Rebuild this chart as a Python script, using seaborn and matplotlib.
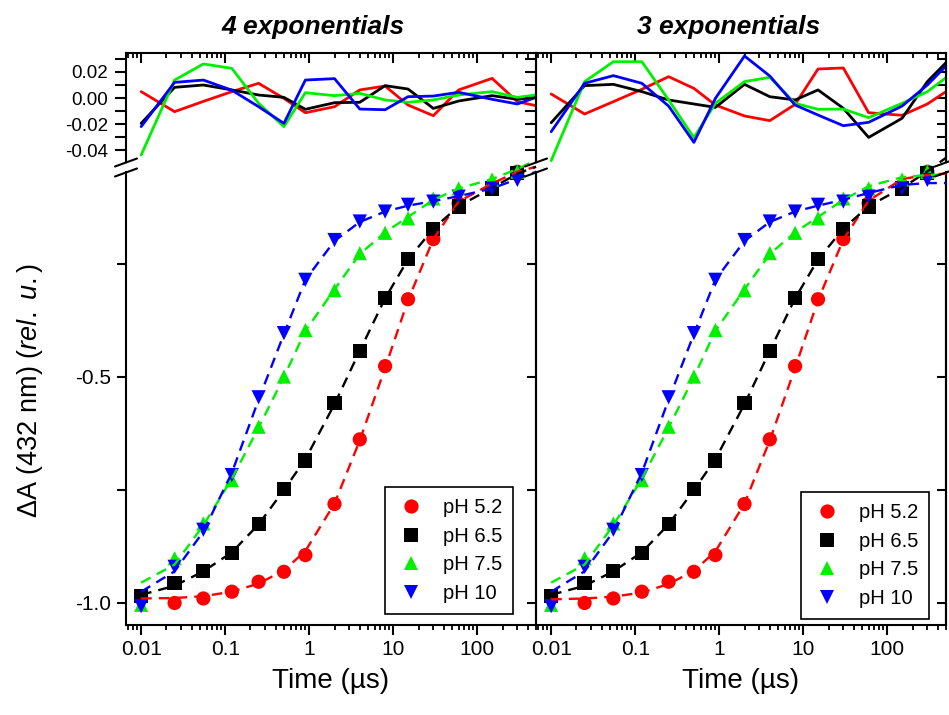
import matplotlib
matplotlib.use("Agg")
import matplotlib.pyplot as plt
from matplotlib.lines import Line2D
from matplotlib.ticker import FixedLocator, FixedFormatter, LogLocator, NullFormatter
import pandas as pd
import seaborn as sns

# ---------------------------------------------------------------- data
# delay times (µs)
time_us = [0.01, 0.025, 0.055, 0.12, 0.25, 0.5, 0.9, 2, 4, 8, 15, 30, 60, 150, 300]
# time grid of the fitted curves and their residuals
fit_time_us = [0.01, 0.025, 0.055, 0.12, 0.25, 0.5, 0.9, 2, 4, 8, 15, 30, 60, 150, 300, 500]

ph_labels = ["pH 5.2", "pH 6.5", "pH 7.5", "pH 10"]

# normalised absorbance change at 432 nm
dA_ph52 = [-0.987, -1.000, -0.990, -0.975, -0.953, -0.931, -0.894, -0.781, -0.638,
           -0.476, -0.328, -0.195, -0.116, -0.077, -0.046]
dA_ph65 = [-0.985, -0.956, -0.929, -0.890, -0.825, -0.748, -0.685, -0.558, -0.442,
           -0.326, -0.239, -0.173, -0.123, -0.083, -0.048]
dA_ph75 = [-1.004, -0.901, -0.824, -0.728, -0.610, -0.499, -0.396, -0.308, -0.226,
           -0.181, -0.149, -0.105, -0.083, -0.063, -0.046]
dA_ph10 = [-1.007, -0.920, -0.838, -0.717, -0.545, -0.403, -0.285, -0.197, -0.156,
           -0.134, -0.119, -0.112, -0.101, -0.083, -0.064]

# fitted curves, sum of four exponentials
fit4_ph52 = [-0.990, -0.989, -0.985, -0.975, -0.957, -0.928, -0.885, -0.780, -0.640,
             -0.480, -0.330, -0.195, -0.112, -0.072, -0.046, -0.035]
fit4_ph65 = [-0.982, -0.962, -0.930, -0.888, -0.826, -0.750, -0.682, -0.560, -0.442,
             -0.326, -0.240, -0.172, -0.122, -0.082, -0.050, -0.035]
fit4_ph75 = [-0.955, -0.915, -0.828, -0.725, -0.612, -0.500, -0.398, -0.306, -0.228,
             -0.180, -0.146, -0.108, -0.083, -0.062, -0.040, -0.020]
fit4_ph10 = [-0.975, -0.930, -0.842, -0.712, -0.550, -0.405, -0.285, -0.199, -0.157,
             -0.134, -0.121, -0.111, -0.100, -0.083, -0.062, -0.046]

# fitted curves, sum of three exponentials
fit3_ph52 = [-0.992, -0.990, -0.986, -0.977, -0.958, -0.929, -0.886, -0.780, -0.640,
             -0.480, -0.330, -0.196, -0.110, -0.062, -0.053, -0.050]
fit3_ph65 = [-0.982, -0.962, -0.930, -0.888, -0.826, -0.750, -0.682, -0.560, -0.442,
             -0.326, -0.240, -0.172, -0.122, -0.082, -0.045, -0.015]
fit3_ph75 = [-0.955, -0.915, -0.828, -0.725, -0.612, -0.500, -0.398, -0.306, -0.228,
             -0.180, -0.146, -0.108, -0.078, -0.058, -0.053, -0.052]
fit3_ph10 = [-0.975, -0.930, -0.842, -0.712, -0.550, -0.405, -0.285, -0.199, -0.157,
             -0.134, -0.121, -0.108, -0.093, -0.075, -0.071, -0.071]

# fit residuals, four exponentials
res4_ph52 = [0.0049, -0.0105, -0.0026, 0.0049, 0.0113, -0.0003, -0.0113, -0.0067,
             0.0062, 0.0092, -0.0054, -0.0136, 0.0062, 0.0151, -0.0028, -0.0059]
res4_ph65 = [-0.0195, 0.0082, 0.0100, 0.0062, 0.0023, 0.0005, -0.0087, -0.0036,
             -0.0033, 0.0095, 0.0069, -0.0080, -0.0023, 0.0018, -0.0010, 0.0005]
res4_ph75 = [-0.0438, 0.0138, 0.0262, 0.0228, -0.0041, -0.0220, 0.0041, 0.0018,
             0.0036, -0.0015, -0.0033, -0.0015, 0.0023, 0.0049, 0.0005, 0.0023]
res4_ph10 = [-0.0220, 0.0120, 0.0138, 0.0060, -0.0067, -0.0195, 0.0138, 0.0149,
             -0.0085, -0.0090, 0.0010, 0.0015, 0.0044, -0.0010, -0.0046, 0.0005]

# fit residuals, three exponentials
res3_ph52 = [0.0031, -0.0123, -0.0028, 0.0067, 0.0164, 0.0074, -0.0054, -0.0138,
             -0.0174, -0.0049, 0.0223, 0.0231, -0.0113, -0.0133, -0.0046, 0.0049]
res3_ph65 = [-0.0190, 0.0095, 0.0105, 0.0049, -0.0015, -0.0046, -0.0072, 0.0105,
             0.0010, -0.0015, 0.0062, -0.0079, -0.0303, -0.0156, 0.0126, 0.0272]
res3_ph75 = [-0.0482, 0.0126, 0.0279, 0.0279, -0.0015, -0.0305, -0.0041, 0.0126,
             0.0159, -0.0041, -0.0087, -0.0085, -0.0151, -0.0041, 0.0049, 0.0156]
res3_ph10 = [-0.0259, 0.0113, 0.0172, 0.0113, -0.0062, -0.0341, -0.0003, 0.0323,
             0.0169, -0.0054, -0.0131, -0.0213, -0.0187, -0.0062, 0.0100, 0.0246]

panel_titles = ["4 exponentials", "3 exponentials"]
x_tick_values = [0.01, 0.1, 1, 10, 100]
x_tick_labels = ["0.01", "0.1", "1", "10", "100"]
main_y_ticks = [-1.0, -0.75, -0.5, -0.25]
main_y_labels = ["-1.0", "", "-0.5", ""]
res_y_ticks = [-0.04, -0.03, -0.02, -0.01, 0.0, 0.01, 0.02, 0.03]
res_y_labels = ["-0.04", "", "-0.02", "", "0.00", "", "0.02", ""]

# ---------------------------------------------------------------- tables
def long_table(x, series):
    rows = []
    for label, values in zip(ph_labels, series):
        for t, v in zip(x, values):
            rows.append({"t": t, "value": v, "pH": label})
    return pd.DataFrame(rows)


points = long_table(time_us, [dA_ph52, dA_ph65, dA_ph75, dA_ph10])
fits = [long_table(fit_time_us, [fit4_ph52, fit4_ph65, fit4_ph75, fit4_ph10]),
        long_table(fit_time_us, [fit3_ph52, fit3_ph65, fit3_ph75, fit3_ph10])]
residuals = [long_table(fit_time_us, [res4_ph52, res4_ph65, res4_ph75, res4_ph10]),
             long_table(fit_time_us, [res3_ph52, res3_ph65, res3_ph75, res3_ph10])]

palette = dict(zip(ph_labels, ["#ff0000", "#000000", "#00f000", "#0000ff"]))
marker_map = dict(zip(ph_labels, ["o", "s", "^", "v"]))

# ---------------------------------------------------------------- style
sns.set_theme(style="ticks")
plt.rcParams["font.family"] = ["Liberation Sans", "DejaVu Sans"]
plt.rcParams["axes.unicode_minus"] = False
plt.rcParams["mathtext.fontset"] = "custom"
plt.rcParams["mathtext.rm"] = "Liberation Sans"
plt.rcParams["mathtext.it"] = "Liberation Sans:italic"
plt.rcParams["axes.linewidth"] = 1.5
for key in ("text.color", "axes.labelcolor", "xtick.color", "ytick.color",
            "axes.edgecolor"):
    plt.rcParams[key] = "black"

W, H = 949, 715
fig = plt.figure(figsize=(W / 100, H / 100), dpi=100)


def frac_rect(x0, x1, ytop, ybot):
    return [x0 / W, 1 - ybot / H, (x1 - x0) / W, (ybot - ytop) / H]


panel_x = [(126, 536), (536, 946)]
res_y = (53, 162)
main_y = (172, 625)
x_lim = (0.0066, 500)
main_lim = (-1.0487, -0.0465)
res_lim = (-0.0492, 0.0346)
legend_anchor = [(0.944, 0.024), (0.9585, 0.013)]
title_x = [313, 729]

for i, (x0, x1) in enumerate(panel_x):
    ax_res = fig.add_axes(frac_rect(x0, x1, res_y[0], res_y[1]))
    ax = fig.add_axes(frac_rect(x0, x1, main_y[0], main_y[1]))
    for a in (ax, ax_res):
        a.patch.set_alpha(0)
        a.set_xscale("log")
        a.set_xlim(*x_lim)

    # ---- main panel: data points and dashed fits
    sns.scatterplot(data=points, x="t", y="value", hue="pH", style="pH",
                    palette=palette, markers=marker_map, s=105, linewidth=0,
                    ax=ax, zorder=2, clip_on=False)
    sns.lineplot(data=fits[i], x="t", y="value", hue="pH", palette=palette,
                 linewidth=1.7, linestyle=(0, (4.5, 3.0)), ax=ax, legend=False,
                 zorder=3, clip_on=False, errorbar=None)
    ax.set_ylim(*main_lim)
    ax.spines["top"].set_visible(False)
    ax.xaxis.set_major_locator(FixedLocator(x_tick_values))
    ax.xaxis.set_major_formatter(FixedFormatter(x_tick_labels))
    ax.xaxis.set_minor_locator(LogLocator(base=10, subs=range(2, 10), numticks=20))
    ax.xaxis.set_minor_formatter(NullFormatter())
    ax.yaxis.set_major_locator(FixedLocator(main_y_ticks))
    ax.yaxis.set_major_formatter(FixedFormatter(main_y_labels if i == 0 else [""] * 4))
    ax.tick_params(axis="x", which="major", direction="out", length=7, width=1.5,
                   labelsize=15, pad=4)
    ax.tick_params(axis="x", which="minor", direction="out", length=3.8, width=1.3)
    ax.tick_params(axis="y", which="major", direction="out", length=6.5, width=1.5,
                   labelsize=15, pad=4, right=False)
    ax.set_xlabel("Time (µs)", fontsize=20, labelpad=6)
    ax.set_ylabel("")

    handles, labels = ax.get_legend_handles_labels()
    leg = ax.legend(handles, labels, loc="lower right", bbox_to_anchor=legend_anchor[i],
                    borderaxespad=0, fontsize=14.5, frameon=True, fancybox=False,
                    framealpha=1, edgecolor="black", borderpad=0.55,
                    labelspacing=0.48, handlelength=1.5, handletextpad=0.8)
    leg.get_frame().set_linewidth(1.2)

    # ---- residual panel
    sns.lineplot(data=residuals[i], x="t", y="value", hue="pH", palette=palette,
                 linewidth=2.0, ax=ax_res, legend=False, errorbar=None)
    ax_res.set_ylim(*res_lim)
    ax_res.spines["bottom"].set_visible(False)
    ax_res.xaxis.tick_top()
    ax_res.xaxis.set_major_locator(FixedLocator(x_tick_values))
    ax_res.xaxis.set_minor_locator(LogLocator(base=10, subs=range(2, 10), numticks=20))
    ax_res.xaxis.set_major_formatter(NullFormatter())
    ax_res.xaxis.set_minor_formatter(NullFormatter())
    ax_res.tick_params(axis="x", which="major", direction="in", length=7.5, width=1.5)
    ax_res.tick_params(axis="x", which="minor", direction="in", length=3.8, width=1.3)
    ax_res.yaxis.set_major_locator(FixedLocator(res_y_ticks))
    ax_res.yaxis.set_major_formatter(FixedFormatter(res_y_labels if i == 0 else [""] * 8))
    ax_res.tick_params(axis="y", which="major", direction="out", length=8, width=1.5,
                       labelsize=13.5, pad=5, right=False)
    ax_res.set_xlabel("")
    ax_res.set_ylabel("")

    # right-hand ticks pointing inward on the outer panel
    if i == 1:
        for a, ticks in ((ax, main_y_ticks), (ax_res, res_y_ticks)):
            sec = a.secondary_yaxis("right")
            sec.yaxis.set_major_locator(FixedLocator(ticks))
            sec.yaxis.set_major_formatter(NullFormatter())
            sec.tick_params(direction="in", length=6.5, width=1.5)

    fig.text(title_x[i] / W, 1 - 27 / H, panel_titles[i], fontsize=19,
             fontweight="bold", fontstyle="italic", ha="center", va="center")

# axis-break marks across every vertical spine
for px in (126, 536, 946):
    for py in (162.5, 172.5):
        fig.add_artist(Line2D([(px - 11) / W, (px + 11) / W],
                              [1 - (py + 4) / H, 1 - (py - 4) / H],
                              transform=fig.transFigure, color="black", lw=1.5))

fig.text(30 / W, 1 - 390 / H, r"ΔA (432 nm) ($\mathit{rel.\ u.}$)", rotation=90,
         fontsize=19.5, ha="center", va="center")

fig.savefig("out.png", dpi=100)
